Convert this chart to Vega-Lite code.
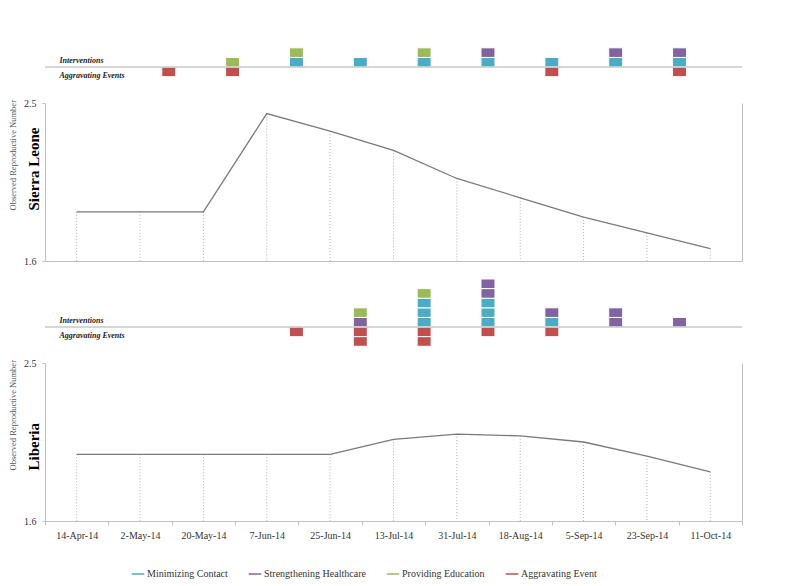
{
  "$schema": "https://vega.github.io/schema/vega-lite/v6.json",
  "background": "white",
  "padding": {"left": 8, "top": 11, "right": 5, "bottom": 5},
  "spacing": 10,
  "bounds": "flush",
  "config": {
    "font": "Liberation Serif",
    "view": {"stroke": null},
    "axis": {"grid": false}
  },
  "resolve": {"scale": {"x": "independent", "y": "independent", "color": "shared"}},
  "datasets": {
    "events": [
      {"country": "Sierra Leone", "slot": 0, "type": "Aggravating Event", "n": -1},
      {"country": "Sierra Leone", "slot": 1, "type": "Providing Education", "n": 1},
      {"country": "Sierra Leone", "slot": 1, "type": "Aggravating Event", "n": -1},
      {"country": "Sierra Leone", "slot": 2, "type": "Minimizing Contact", "n": 1},
      {"country": "Sierra Leone", "slot": 2, "type": "Providing Education", "n": 1},
      {"country": "Sierra Leone", "slot": 3, "type": "Minimizing Contact", "n": 1},
      {"country": "Sierra Leone", "slot": 4, "type": "Minimizing Contact", "n": 1},
      {"country": "Sierra Leone", "slot": 4, "type": "Providing Education", "n": 1},
      {"country": "Sierra Leone", "slot": 5, "type": "Minimizing Contact", "n": 1},
      {"country": "Sierra Leone", "slot": 5, "type": "Strengthening Healthcare", "n": 1},
      {"country": "Sierra Leone", "slot": 6, "type": "Minimizing Contact", "n": 1},
      {"country": "Sierra Leone", "slot": 6, "type": "Aggravating Event", "n": -1},
      {"country": "Sierra Leone", "slot": 7, "type": "Minimizing Contact", "n": 1},
      {"country": "Sierra Leone", "slot": 7, "type": "Strengthening Healthcare", "n": 1},
      {"country": "Sierra Leone", "slot": 8, "type": "Minimizing Contact", "n": 1},
      {"country": "Sierra Leone", "slot": 8, "type": "Strengthening Healthcare", "n": 1},
      {"country": "Sierra Leone", "slot": 8, "type": "Aggravating Event", "n": -1},
      {"country": "Liberia", "slot": 2, "type": "Aggravating Event", "n": -1},
      {"country": "Liberia", "slot": 3, "type": "Strengthening Healthcare", "n": 1},
      {"country": "Liberia", "slot": 3, "type": "Providing Education", "n": 1},
      {"country": "Liberia", "slot": 3, "type": "Aggravating Event", "n": -1},
      {"country": "Liberia", "slot": 3, "type": "Aggravating Event", "n": -1},
      {"country": "Liberia", "slot": 4, "type": "Minimizing Contact", "n": 1},
      {"country": "Liberia", "slot": 4, "type": "Minimizing Contact", "n": 1},
      {"country": "Liberia", "slot": 4, "type": "Minimizing Contact", "n": 1},
      {"country": "Liberia", "slot": 4, "type": "Providing Education", "n": 1},
      {"country": "Liberia", "slot": 4, "type": "Aggravating Event", "n": -1},
      {"country": "Liberia", "slot": 4, "type": "Aggravating Event", "n": -1},
      {"country": "Liberia", "slot": 5, "type": "Minimizing Contact", "n": 1},
      {"country": "Liberia", "slot": 5, "type": "Minimizing Contact", "n": 1},
      {"country": "Liberia", "slot": 5, "type": "Minimizing Contact", "n": 1},
      {"country": "Liberia", "slot": 5, "type": "Strengthening Healthcare", "n": 1},
      {"country": "Liberia", "slot": 5, "type": "Strengthening Healthcare", "n": 1},
      {"country": "Liberia", "slot": 5, "type": "Aggravating Event", "n": -1},
      {"country": "Liberia", "slot": 6, "type": "Minimizing Contact", "n": 1},
      {"country": "Liberia", "slot": 6, "type": "Strengthening Healthcare", "n": 1},
      {"country": "Liberia", "slot": 6, "type": "Aggravating Event", "n": -1},
      {"country": "Liberia", "slot": 7, "type": "Strengthening Healthcare", "n": 1},
      {"country": "Liberia", "slot": 7, "type": "Strengthening Healthcare", "n": 1},
      {"country": "Liberia", "slot": 8, "type": "Strengthening Healthcare", "n": 1}
    ],
    "rn": [
      {"country": "Sierra Leone", "date": "14-Apr-14", "R": 1.88},
      {"country": "Sierra Leone", "date": "2-May-14", "R": 1.88},
      {"country": "Sierra Leone", "date": "20-May-14", "R": 1.88},
      {"country": "Sierra Leone", "date": "7-Jun-14", "R": 2.44},
      {"country": "Sierra Leone", "date": "25-Jun-14", "R": 2.34},
      {"country": "Sierra Leone", "date": "13-Jul-14", "R": 2.23},
      {"country": "Sierra Leone", "date": "31-Jul-14", "R": 2.07},
      {"country": "Sierra Leone", "date": "18-Aug-14", "R": 1.96},
      {"country": "Sierra Leone", "date": "5-Sep-14", "R": 1.85},
      {"country": "Sierra Leone", "date": "23-Sep-14", "R": 1.76},
      {"country": "Sierra Leone", "date": "11-Oct-14", "R": 1.67},
      {"country": "Liberia", "date": "14-Apr-14", "R": 1.98},
      {"country": "Liberia", "date": "2-May-14", "R": 1.98},
      {"country": "Liberia", "date": "20-May-14", "R": 1.98},
      {"country": "Liberia", "date": "7-Jun-14", "R": 1.98},
      {"country": "Liberia", "date": "25-Jun-14", "R": 1.98},
      {"country": "Liberia", "date": "13-Jul-14", "R": 2.065},
      {"country": "Liberia", "date": "31-Jul-14", "R": 2.095},
      {"country": "Liberia", "date": "18-Aug-14", "R": 2.085},
      {"country": "Liberia", "date": "5-Sep-14", "R": 2.05},
      {"country": "Liberia", "date": "23-Sep-14", "R": 1.97},
      {"country": "Liberia", "date": "11-Oct-14", "R": 1.88}
    ]
  },
  "vconcat": [
    {
      "width": 697, "height": 82,
      "layer": [
        {
          "data": {"name": "events"},
          "transform": [{"filter": "datum.country === 'Sierra Leone'"}],
          "mark": {"type": "bar", "width": 14, "stroke": "white", "strokeWidth": 1},
          "encoding": {
            "x": {"field": "slot", "type": "quantitative", "scale": {"domain": [-1.86, 8.9], "nice": false, "zero": false}, "axis": null},
            "y": {"field": "n", "type": "quantitative", "stack": "zero", "scale": {"domain": [-2.7, 5.83], "nice": false, "zero": false},
              "axis": {"orient": "left", "values": [0.7, -0.85], "labelExpr": "datum.value > 0 ? 'Interventions' : 'Aggravating Events'", "labelAlign": "left", "labelBaseline": "middle", "labelPadding": -14, "ticks": false, "tickSize": 0, "domain": false, "grid": false, "title": null, "labelFontSize": 8, "labelFontStyle": "italic", "labelFontWeight": "bold", "labelColor": "#222222"}},
            "color": {"field": "type", "type": "nominal",
              "scale": {"domain": ["Minimizing Contact", "Strengthening Healthcare", "Providing Education", "Aggravating Event"], "range": ["#4bacc6", "#8064a2", "#9bbb59", "#c0504d"]},
              "legend": {"orient": "none", "legendX": 85, "legendY": 555, "direction": "horizontal", "title": null, "symbolType": "M-1,-0.2H1V0.2H-1Z", "symbolSize": 196, "labelFontSize": 10, "labelColor": "#333333", "columnPadding": 17, "labelOffset": 1}},
            "order": {"field": "slot", "type": "quantitative"}
          }
        },
        {
          "data": {"values": [{}]},
          "mark": {"type": "rule", "color": "#c8c8c8", "strokeWidth": 1.5},
          "encoding": {"y": {"datum": 0}}
        }
      ]
    },
    {
      "width": 697, "height": 158,
      "data": {"name": "rn"},
      "transform": [{"filter": "datum.country === 'Sierra Leone'"}],
      "encoding": {
        "x": {"field": "date", "type": "ordinal", "sort": null, "scale": {"type": "band", "paddingInner": 0, "paddingOuter": 0},
          "axis": {"labels": false, "ticks": false, "title": null, "domainColor": "#c0c0c0"}}
      },
      "layer": [
        {
          "mark": {"type": "rule", "strokeDash": [1, 2], "color": "#b0b0b0", "strokeWidth": 1},
          "encoding": {
            "y": {"field": "R", "type": "quantitative", "scale": {"domain": [1.6, 2.5], "nice": false, "zero": false},
              "axis": {"orient": "right", "labels": false, "ticks": false, "title": null, "domainColor": "#c0c0c0"}},
            "y2": {"datum": 1.6}
          }
        },
        {
          "mark": {"type": "line", "color": "#7a7a7a", "strokeWidth": 1.3},
          "encoding": {
            "y": {"field": "R", "type": "quantitative", "scale": {"domain": [1.6, 2.5], "nice": false, "zero": false},
              "axis": {"orient": "left", "values": [1.6, 2.5], "format": ".1f", "tickSize": 3, "tickColor": "#c0c0c0", "domainColor": "#c0c0c0", "labelPadding": 6, "labelFontSize": 10, "labelColor": "#333333",
                "title": "Sierra Leone", "titleX": -4, "titleY": 107, "titleAngle": -90, "titleAlign": "left", "titleBaseline": "bottom", "titleFontSize": 15, "titleFontWeight": "bold", "titleColor": "#000000"}}
          }
        },
        {
          "mark": {"type": "line", "opacity": 0},
          "encoding": {
            "y": {"field": "R", "type": "quantitative", "scale": {"domain": [1.6, 2.5], "nice": false, "zero": false},
              "axis": {"orient": "left", "labels": false, "ticks": false, "domain": false,
                "title": "Observed Reproductive Number", "titleX": -28, "titleY": 107, "titleAngle": -90, "titleAlign": "left", "titleBaseline": "bottom", "titleFontSize": 8.5, "titleFontWeight": "normal", "titleColor": "#555555"}}
          }
        }
      ],
      "resolve": {"scale": {"y": "independent"}}
    },
    {
      "width": 697, "height": 82,
      "layer": [
        {
          "data": {"name": "events"},
          "transform": [{"filter": "datum.country === 'Liberia'"}],
          "mark": {"type": "bar", "width": 14, "stroke": "white", "strokeWidth": 1},
          "encoding": {
            "x": {"field": "slot", "type": "quantitative", "scale": {"domain": [-1.86, 8.9], "nice": false, "zero": false}, "axis": null},
            "y": {"field": "n", "type": "quantitative", "stack": "zero", "scale": {"domain": [-2.7, 5.83], "nice": false, "zero": false},
              "axis": {"orient": "left", "values": [0.7, -0.85], "labelExpr": "datum.value > 0 ? 'Interventions' : 'Aggravating Events'", "labelAlign": "left", "labelBaseline": "middle", "labelPadding": -14, "ticks": false, "tickSize": 0, "domain": false, "grid": false, "title": null, "labelFontSize": 8, "labelFontStyle": "italic", "labelFontWeight": "bold", "labelColor": "#222222"}},
            "color": {"field": "type", "type": "nominal",
              "scale": {"domain": ["Minimizing Contact", "Strengthening Healthcare", "Providing Education", "Aggravating Event"], "range": ["#4bacc6", "#8064a2", "#9bbb59", "#c0504d"]}},
            "order": {"field": "slot", "type": "quantitative"}
          }
        },
        {
          "data": {"values": [{}]},
          "mark": {"type": "rule", "color": "#c8c8c8", "strokeWidth": 1.5},
          "encoding": {"y": {"datum": 0}}
        }
      ]
    },
    {
      "width": 697, "height": 158,
      "data": {"name": "rn"},
      "transform": [{"filter": "datum.country === 'Liberia'"}],
      "encoding": {
        "x": {"field": "date", "type": "ordinal", "sort": null, "scale": {"type": "band", "paddingInner": 0, "paddingOuter": 0},
          "axis": {"title": null, "labelAngle": 0, "tickBand": "extent", "tickSize": 4, "tickColor": "#c0c0c0", "domainColor": "#c0c0c0", "labelPadding": 5, "labelFontSize": 10, "labelColor": "#333333"}}
      },
      "layer": [
        {
          "mark": {"type": "rule", "strokeDash": [1, 2], "color": "#b0b0b0", "strokeWidth": 1},
          "encoding": {
            "y": {"field": "R", "type": "quantitative", "scale": {"domain": [1.6, 2.5], "nice": false, "zero": false},
              "axis": {"orient": "right", "labels": false, "ticks": false, "title": null, "domainColor": "#c0c0c0"}},
            "y2": {"datum": 1.6}
          }
        },
        {
          "mark": {"type": "line", "color": "#7a7a7a", "strokeWidth": 1.3},
          "encoding": {
            "y": {"field": "R", "type": "quantitative", "scale": {"domain": [1.6, 2.5], "nice": false, "zero": false},
              "axis": {"orient": "left", "values": [1.6, 2.5], "format": ".1f", "tickSize": 3, "tickColor": "#c0c0c0", "domainColor": "#c0c0c0", "labelPadding": 6, "labelFontSize": 10, "labelColor": "#333333",
                "title": "Liberia", "titleX": -4, "titleY": 107, "titleAngle": -90, "titleAlign": "left", "titleBaseline": "bottom", "titleFontSize": 15, "titleFontWeight": "bold", "titleColor": "#000000"}}
          }
        },
        {
          "mark": {"type": "line", "opacity": 0},
          "encoding": {
            "y": {"field": "R", "type": "quantitative", "scale": {"domain": [1.6, 2.5], "nice": false, "zero": false},
              "axis": {"orient": "left", "labels": false, "ticks": false, "domain": false,
                "title": "Observed Reproductive Number", "titleX": -28, "titleY": 107, "titleAngle": -90, "titleAlign": "left", "titleBaseline": "bottom", "titleFontSize": 8.5, "titleFontWeight": "normal", "titleColor": "#555555"}}
          }
        }
      ],
      "resolve": {"scale": {"y": "independent"}}
    }
  ]
}
